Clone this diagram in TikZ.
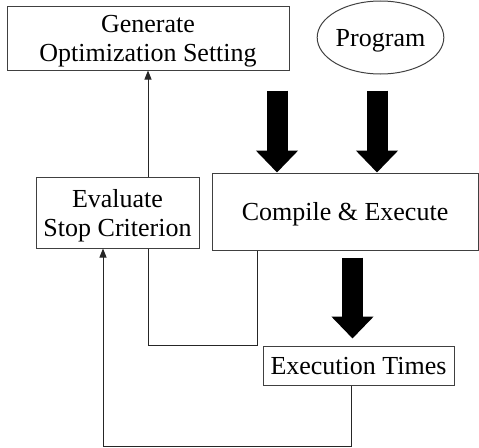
\documentclass[tikz,border=0pt]{standalone}
\usepackage{fontspec}
\setmainfont{Liberation Serif}
\usetikzlibrary{arrows.meta,shapes.geometric}

\begin{document}
\begin{tikzpicture}[x=1pt,y=-1pt,
    box/.style={draw=black!75, line width=1pt, inner sep=0pt, align=center,
                text depth=0pt, font=\fontsize{26}{29}\selectfont},
    fat/.style={line width=21pt, -{Triangle[width=41pt,length=22pt]}},
    thin/.style={draw=black!85, line width=1pt}]
\useasboundingbox (0,0) rectangle (479,447);

    \node[box, minimum width=282pt, minimum height=64pt] (gen) at (148,38) {Generate\\Optimization Setting};
    \node[box, ellipse, minimum width=106pt, minimum height=73pt] (prog) at (380.5,37.5) {Program};
    \node[box, minimum width=163pt, minimum height=71pt] (eval) at (117.5,212.5) {Evaluate\\Stop Criterion};
    \node[box, minimum width=266pt, minimum height=77pt] (cmp) at (345,211.5) {Compile \& Execute};
    \node[box, minimum width=191pt, minimum height=39pt] (exe) at (358.5,365.5) {Execution Times};

     \draw[fat, shorten <=20pt] (gen.south -| 277,0) -- (cmp.north -| 277,0);
     \draw[fat, shorten <=16pt] (prog.south -| 377,0) -- (cmp.north -| 377,0);
     \draw[fat, shorten <=7pt, shorten >=7pt] (cmp.south -| 352.5,0) -- (exe.north -| 352.5,0);

     \draw[thin, -{Triangle[width=7pt,length=9pt]}] (gen.south |- eval.north) -- (gen.south);
     \draw[thin] (cmp.south -| 257,0) |- (gen.south |- exe.north) -- (gen.south |- eval.south);
     \draw[thin, -{Triangle[width=7pt,length=9pt]}] (exe.south -| 351,0) -- (351,446) -| (eval.south -| 103,0);
\end{tikzpicture}
\end{document}
